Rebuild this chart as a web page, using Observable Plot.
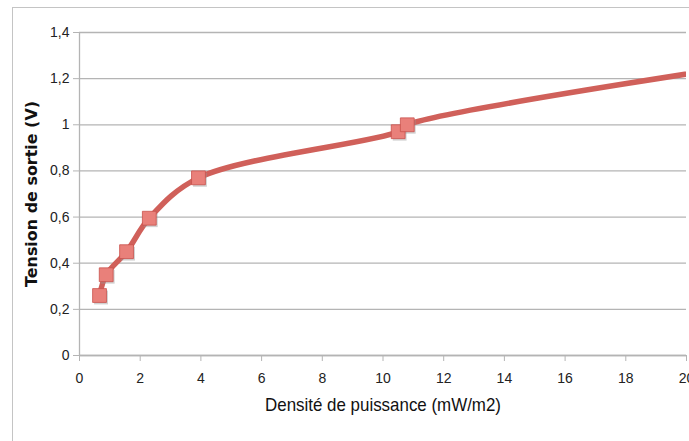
<!DOCTYPE html>
<html>
<head>
<meta charset="utf-8">
<script src="https://cdn.jsdelivr.net/npm/d3@7"></script>
<script src="https://cdn.jsdelivr.net/npm/@observablehq/plot@0.6"></script>
<style>
  body { margin: 0; background: #fff; }
  #wrap { position: relative; width: 689px; height: 441px; overflow: hidden; }
  #frame { position: absolute; left: 12px; top: 7px; width: 720px; height: 460px; border: 1px solid #c4c4c4; }
  #chart { position: absolute; left: 0; top: 0; }
</style>
</head>
<body>
<div id="wrap"><div id="frame"></div><div id="chart"></div></div>
<script>
// measured points (markers)
const density = [0.66, 0.88, 1.55, 2.3, 3.92, 10.5, 10.8];
const voltage = [0.26, 0.35, 0.45, 0.595, 0.77, 0.97, 1.0];
// one more point lies beyond the visible x range (line continues off the chart)
const extraDensity = [24];
const extraVoltage = [1.30];
const xTicks = [0, 2, 4, 6, 8, 10, 12, 14, 16, 18, 20];
const yTicks = [0, 0.2, 0.4, 0.6, 0.8, 1, 1.2, 1.4];
const xLabel = "Densité de puissance (mW/m2)";
const yLabel = "Tension de sortie (V)";

const pts = density.map((d, i) => ({x: d, y: voltage[i]}));
const linePts = pts.concat(extraDensity.map((d, i) => ({x: d, y: extraVoltage[i]})));
const fmt = d => String(d).replace(".", ",");
const narrow = "Liberation Sans Narrow, Liberation Sans, sans-serif";

const plot = Plot.plot({
  width: 689,
  height: 441,
  marginLeft: 79,
  marginRight: 3,
  marginTop: 32,
  marginBottom: 86,
  style: {background: "transparent", overflow: "visible"},
  x: {domain: [0, 20]},
  y: {domain: [0, 1.4]},
  marks: [
    Plot.gridY(yTicks, {stroke: "#b4b4b4", strokeOpacity: 1, strokeWidth: 1.3}),
    Plot.ruleX([0], {stroke: "#b4b4b4", strokeWidth: 1.3}),
    Plot.ruleY([0], {stroke: "#b4b4b4", strokeWidth: 1.3}),
    Plot.axisY(yTicks, {tickFormat: fmt, tickSize: 6, tickPadding: 4, stroke: "#b4b4b4",
      fill: "#222", fontSize: 14, fontFamily: narrow, label: null, className: "yt"}),
    Plot.axisX(xTicks, {tickSize: 6, tickPadding: 12, stroke: "#b4b4b4",
      fill: "#222", fontSize: 14, fontFamily: narrow, label: null, className: "xt"}),
    Plot.line(linePts, {x: "x", y: "y", curve: "catmull-rom", stroke: "#d0605a", strokeWidth: 5.5, clip: true}),
    Plot.dot(pts, {x: "x", y: "y", symbol: "square", r: 7.8, fill: "#999", fillOpacity: 0.45, dx: 1.5, dy: 2}),
    Plot.dot(pts, {x: "x", y: "y", symbol: "square", r: 7.8, fill: "#e9807a", stroke: "#c9524c", strokeWidth: 0.8}),
    Plot.text([xLabel], {frameAnchor: "bottom", dy: 55, fontSize: 19, fill: "#111",
      fontFamily: narrow, className: "xlab"}),
    Plot.text([yLabel], {frameAnchor: "left", textAnchor: "middle", dx: -47, rotate: -90, fontSize: 15, fontWeight: "bold", fill: "#111",
      fontFamily: "DejaVu Sans, sans-serif", className: "ylab"})
  ]
});
document.getElementById("chart").appendChild(plot);
// condense text to mimic the narrow original typeface
plot.querySelectorAll(".xlab text").forEach(t => { t.setAttribute("textLength", 236); t.setAttribute("lengthAdjust", "spacingAndGlyphs"); });
plot.querySelectorAll(".ylab text").forEach(t => { t.setAttribute("textLength", 186); t.setAttribute("lengthAdjust", "spacingAndGlyphs"); });
</script>
</body>
</html>
